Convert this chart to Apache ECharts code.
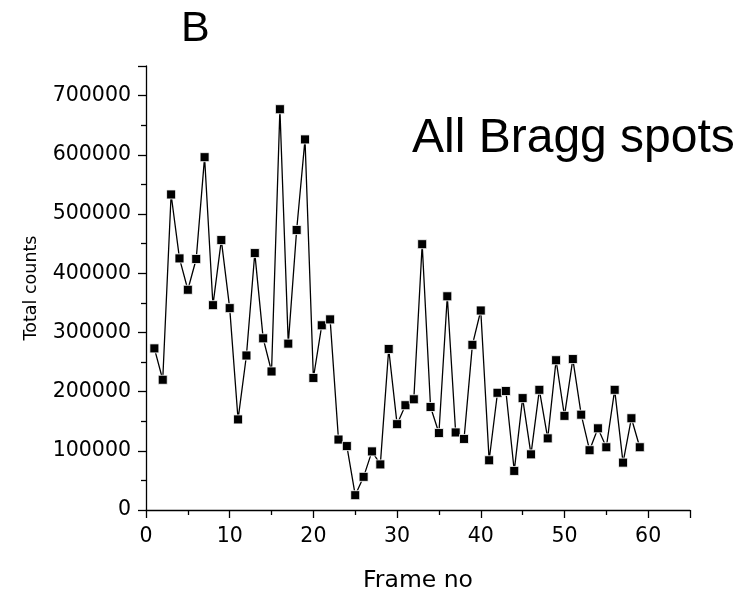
<!DOCTYPE html>
<html>
<head>
<meta charset="utf-8">
<script src="https://cdn.jsdelivr.net/npm/echarts@6/dist/echarts.min.js"></script>
<style>
  html, body { margin: 0; padding: 0; background: #fff; }
  #chart { width: 755px; height: 599px; }
</style>
</head>
<body>
<div id="chart"></div>
<script>
// Frame numbers and integrated counts over all Bragg spots
const frames = [
  1, 2, 3, 4, 5, 6, 7, 8, 9, 10,
  11, 12, 13, 14, 15, 16, 17, 18, 19, 20,
  21, 22, 23, 24, 25, 26, 27, 28, 29, 30,
  31, 32, 33, 34, 35, 36, 37, 38, 39, 40,
  41, 42, 43, 44, 45, 46, 47, 48, 49, 50,
  51, 52, 53, 54, 55, 56, 57, 58, 59
];
const totalCounts = [
  273000, 220000, 533000, 425000, 372000, 424000, 596000, 346000, 456000, 341000,
  153000, 261000, 434000, 290000, 234000, 677000, 281000, 473000, 626000, 223000,
  312000, 322000, 119000, 108000, 25000, 56000, 99000, 77000, 272000, 145000,
  177000, 187000, 449000, 174000, 130000, 361000, 131000, 120000, 279000, 337000,
  84000, 198000, 201000, 66000, 189000, 94000, 203000, 121000, 253000, 159000,
  255000, 161000, 101000, 138000, 106000, 203000, 80000, 155000, 106000
];
const xTicks = [0, 10, 20, 30, 40, 50, 60];
const yTicks = [0, 100000, 200000, 300000, 400000, 500000, 600000, 700000];

const labelFont = 'DejaVu Sans';
const chart = echarts.init(document.getElementById('chart'));

chart.setOption({
  animation: false,
  backgroundColor: '#ffffff',
  title: {
    text: 'B',
    left: 176,
    top: 3,
    textStyle: { fontFamily: 'Liberation Sans', fontSize: 43, fontWeight: 'normal', color: '#000' }
  },
  graphic: [{
    type: 'text',
    left: 412,
    top: 115,
    style: {
      text: 'All Bragg spots',
      font: '48px "Liberation Sans"',
      fill: '#000'
    }
  }],
  grid: { left: 146, right: 65, top: 66, bottom: 89 },
  xAxis: {
    type: 'value',
    min: 0,
    max: 65,
    interval: 10,
    name: 'Frame no',
    nameLocation: 'middle',
    nameGap: 59,
    nameTextStyle: { fontFamily: labelFont, fontSize: 23.5, color: '#000' },
    axisLine: { show: true, onZero: false, lineStyle: { color: '#000', width: 1.3 } },
    axisTick: { show: true, inside: false, length: 8, lineStyle: { color: '#000', width: 1.3 } },
    minorTick: { show: true, splitNumber: 2, length: 5, lineStyle: { color: '#000', width: 1.3 } },
    splitLine: { show: false },
    axisLabel: {
      margin: 16,
      fontFamily: labelFont,
      fontSize: 20.5,
      color: '#000',
      showMaxLabel: false,
      formatter: v => (xTicks.indexOf(v) >= 0 ? String(v) : '')
    }
  },
  yAxis: {
    type: 'value',
    min: 0,
    max: 750000,
    interval: 100000,
    name: 'Total counts',
    nameLocation: 'middle',
    nameGap: 106,
    nameTextStyle: { fontFamily: labelFont, fontSize: 17.5, color: '#000' },
    axisLine: { show: true, onZero: false, lineStyle: { color: '#000', width: 1.3 } },
    axisTick: { show: true, inside: false, length: 8, lineStyle: { color: '#000', width: 1.3 } },
    minorTick: { show: true, splitNumber: 2, length: 5, lineStyle: { color: '#000', width: 1.3 } },
    splitLine: { show: false },
    axisLabel: {
      margin: 15,
      fontFamily: labelFont,
      fontSize: 20.5,
      color: '#000',
      showMaxLabel: false,
      formatter: v => (yTicks.indexOf(v) >= 0 ? String(v) : '')
    }
  },
  series: [{
    type: 'line',
    data: frames.map((f, i) => [f, totalCounts[i]]),
    symbol: 'rect',
    symbolSize: 9,
    showAllSymbol: true,
    itemStyle: { color: '#000', borderColor: '#fff', borderWidth: 0.8 },
    lineStyle: { color: '#000', width: 1.3 },
    z: 3
  }]
});
</script>
</body>
</html>
